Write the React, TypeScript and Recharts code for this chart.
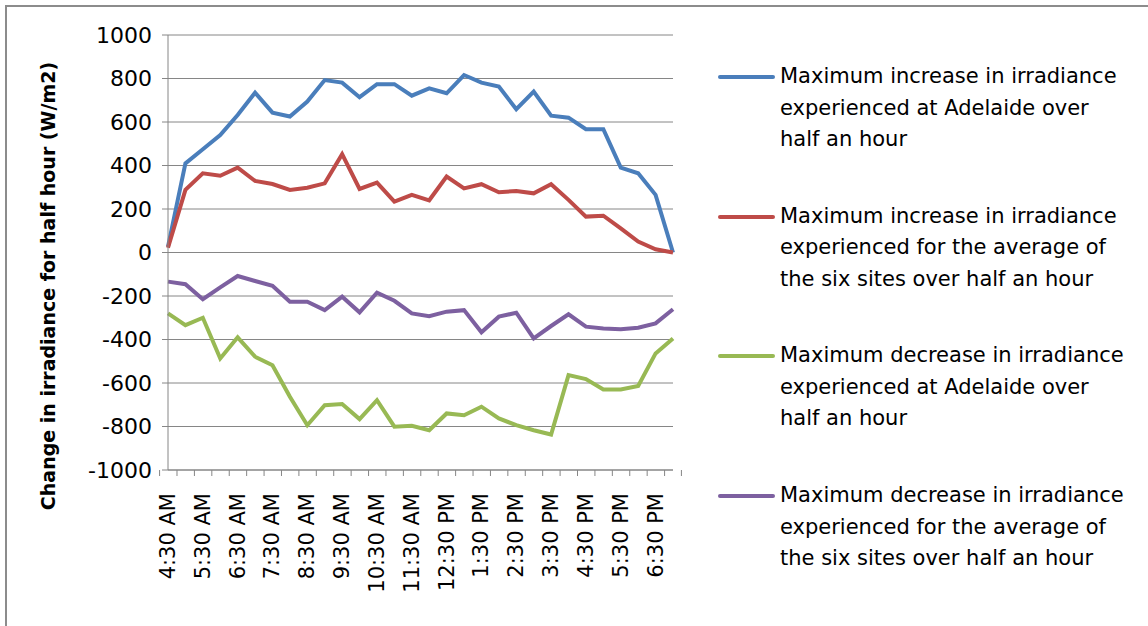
import { LineChart, Line, XAxis, YAxis, CartesianGrid, Legend } from 'recharts'

const times = [
  '4:30 AM', '5:00 AM', '5:30 AM', '6:00 AM', '6:30 AM', '7:00 AM', '7:30 AM', '8:00 AM',
  '8:30 AM', '9:00 AM', '9:30 AM', '10:00 AM', '10:30 AM', '11:00 AM', '11:30 AM', '12:00 PM',
  '12:30 PM', '1:00 PM', '1:30 PM', '2:00 PM', '2:30 PM', '3:00 PM', '3:30 PM', '4:00 PM',
  '4:30 PM', '5:00 PM', '5:30 PM', '6:00 PM', '6:30 PM', '7:00 PM',
]

const incAdelaide = [
  27, 410, 475, 540, 632, 735, 643, 625, 694, 793, 781, 714, 774, 774, 721, 755,
  732, 816, 781, 763, 659, 740, 629, 620, 567, 567, 390, 364, 265, 0,
]
const incAverage = [
  22, 288, 364, 353, 390, 329, 315, 288, 298, 318, 452, 292, 321, 234, 265, 240,
  349, 295, 314, 277, 283, 272, 314, 242, 165, 169, 111, 50, 15, 0,
]
const decAdelaide = [
  -280, -334, -300, -487, -390, -479, -518, -663, -794, -702, -697, -766, -679, -801, -797, -817,
  -740, -748, -709, -763, -794, -817, -837, -564, -582, -630, -630, -614, -464, -395,
]
const decAverage = [
  -134, -146, -215, -160, -108, -131, -153, -226, -226, -265, -203, -275, -185, -222, -280, -293,
  -272, -265, -367, -295, -277, -395, -338, -284, -341, -349, -353, -346, -326, -261,
]

const yTicks = [-1000, -800, -600, -400, -200, 0, 200, 400, 600, 800, 1000]

const seriesKeys = ['incAdelaide', 'incAverage', 'decAdelaide', 'decAverage']
const seriesColors = ['#4A7EBB', '#BE4B48', '#98B954', '#7D60A0']
const legendLines = [
  ['Maximum increase in irradiance', 'experienced at Adelaide over', 'half an hour'],
  ['Maximum increase in irradiance', 'experienced for the average of', 'the six sites over half an hour'],
  ['Maximum decrease in irradiance', 'experienced at Adelaide over', 'half an hour'],
  ['Maximum decrease in irradiance', 'experienced for the average of', 'the six sites over half an hour'],
]

const data = times.map((t, i) => ({
  time: t,
  incAdelaide: incAdelaide[i],
  incAverage: incAverage[i],
  decAdelaide: decAdelaide[i],
  decAverage: decAverage[i],
}))

const FONT = '"DejaVu Sans", sans-serif'
const AXIS = '#868686'
const PLOT_LEFT = 168
const PLOT_RIGHT = 673
const PLOT_BOTTOM = 470
const HALF_BAND = (PLOT_RIGHT - PLOT_LEFT) / times.length / 2

function TimeTick({ x, payload, index }: any) {
  const last = index === times.length - 1
  return (
    <g>
      <line x1={x - HALF_BAND} x2={x - HALF_BAND} y1={PLOT_BOTTOM} y2={PLOT_BOTTOM + 6} stroke={AXIS} />
      {last && (
        <line x1={x + HALF_BAND} x2={x + HALF_BAND} y1={PLOT_BOTTOM} y2={PLOT_BOTTOM + 6} stroke={AXIS} />
      )}
      {index % 2 === 0 && (
        <text
          x={x}
          y={PLOT_BOTTOM + 23}
          transform={`rotate(-90, ${x}, ${PLOT_BOTTOM + 23})`}
          textAnchor="end"
          dominantBaseline="central"
          fontFamily={FONT}
          fontSize={21}
          fill="#000"
        >
          {payload.value}
        </text>
      )}
    </g>
  )
}

function YTitle() {
  return (
    <text
      x={48}
      y={286}
      transform="rotate(-90, 48, 286)"
      textAnchor="middle"
      dominantBaseline="central"
      fontFamily={FONT}
      fontWeight="bold"
      fontSize={19}
      fill="#000"
    >
      Change in irradiance for half hour (W/m2)
    </text>
  )
}

function LegendBox({ payload }: any) {
  const items = seriesKeys.map((k, i) => {
    const p = (payload || []).find((e: any) => e.dataKey === k)
    return { key: k, color: p ? p.color : seriesColors[i], lines: legendLines[i] }
  })
  return (
    <div style={{ position: 'relative', width: 430, fontFamily: FONT, fontSize: 21, color: '#000' }}>
      {items.map((it, i) => (
        <div key={it.key} style={{ position: 'absolute', left: 0, top: i * 139.7, lineHeight: '31.5px' }}>
          <div style={{ position: 'absolute', left: 0, top: 14, width: 57, height: 4, borderRadius: 2, background: it.color }} />
          <div style={{ marginLeft: 62, whiteSpace: 'nowrap' }}>
            {it.lines.map((l, j) => (
              <div key={j}>{l}</div>
            ))}
          </div>
        </div>
      ))}
    </div>
  )
}

export default function App() {
  return (
    <div style={{ position: 'fixed', left: 0, top: 0, width: 1148, height: 626, overflow: 'hidden', background: '#fff' }}>
      <div
        style={{
          position: 'absolute', left: 5, top: 5, width: 1200, height: 700,
          borderLeft: '2px solid #8c8c8c', borderTop: '2px solid #8c8c8c',
        }}
      />
      <div style={{ position: 'absolute', left: 0, top: 0 }}>
        <LineChart
          width={1148}
          height={626}
          data={data}
          margin={{ top: 35, right: 1148 - PLOT_RIGHT, bottom: 0, left: 60 }}
        >
          <CartesianGrid vertical={false} stroke={AXIS} strokeWidth={1} />
          <XAxis
            dataKey="time"
            interval={0}
            height={626 - PLOT_BOTTOM}
            stroke={AXIS}
            tickLine={false}
            tick={<TimeTick />}
          />
          <YAxis
            domain={[-1000, 1000]}
            ticks={yTicks}
            width={PLOT_LEFT - 60}
            stroke={AXIS}
            tickSize={6}
            tickMargin={10}
            tick={{ fontFamily: FONT, fontSize: 22, fill: '#000' }}
            label={<YTitle />}
          />
          <Legend
            layout="horizontal"
            align="center"
            verticalAlign="middle"
            wrapperStyle={{ left: 718, top: 61, width: 430 }}
            content={<LegendBox />}
          />
          {seriesKeys.map((k, i) => (
            <Line
              key={k}
              name={legendLines[i].join(' ')}
              dataKey={k}
              stroke={seriesColors[i]}
              strokeWidth={4}
              dot={false}
              isAnimationActive={false}
            />
          ))}
        </LineChart>
      </div>
    </div>
  )
}
